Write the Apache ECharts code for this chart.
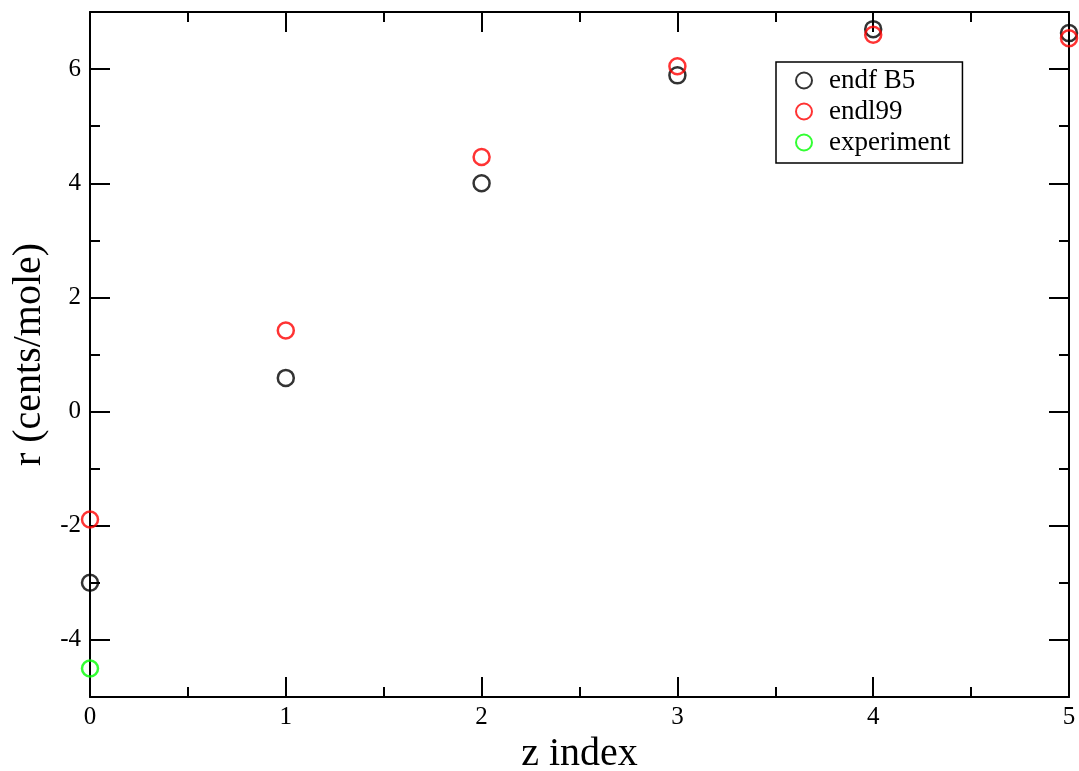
<!DOCTYPE html>
<html><head><meta charset="utf-8">
<script src="https://cdn.jsdelivr.net/npm/echarts@6/dist/echarts.min.js"></script>
<style>html,body{margin:0;padding:0;background:#fff}#c{width:1079px;height:771px}</style>
</head><body><div id="c"></div>
<script>
const xIndex = [0, 1, 2, 3, 4, 5];
const endfB5 = [-3.0, 0.59, 4.0, 5.89, 6.70, 6.63];
const endl99 = [-1.89, 1.42, 4.46, 6.05, 6.60, 6.54];
const experimentX = [0];
const experiment = [-4.5];
const seriesNames = ['endf B5', 'endl99', 'experiment'];
const colors = ['#000000', '#ff0000', '#00ff00'];

const FONT = 'Liberation Serif';
const chart = echarts.init(document.getElementById('c'));
function pts(xs, ys){ return xs.map((x,i)=>[x, ys[i]]); }
function mk(name, data, color){
  return {name, type:'scatter', data, symbol:'circle', symbolSize:16,
    itemStyle:{color:'transparent', borderColor:color, borderWidth:2.5},
    emphasis:{disabled:true}, xAxisIndex:0, yAxisIndex:0};
}
const axisLine = {show:true, onZero:false, lineStyle:{color:'#000', width:2}};
const tickStyle = {color:'#000', width:2};
function yMajor(pos, labels){
  return {type:'value', min:-5, max:7, splitNumber:6, minInterval:2, maxInterval:2, position:pos, offset:0,
    axisLine, axisTick:{show:true, inside:true, length:20, lineStyle:tickStyle},
    minorTick:{show:false}, splitLine:{show:false},
    axisLabel: labels ? {color:'#000', fontFamily:FONT, fontSize:25, margin:9,
       showMinLabel:false, showMaxLabel:false,
       formatter:v=> (v===-5||v===7)?'':String(v)} : {show:false}};
}
function yMinor(pos){
  return {type:'value', min:-5, max:7, interval:1, position:pos, offset:0,
    axisLine:{show:false, onZero:false}, axisTick:{show:true, inside:true, length:10, lineStyle:tickStyle},
    splitLine:{show:false}, axisLabel:{show:false}};
}
const yLeft = yMajor('left', true);
yLeft.name = 'r (cents/mole)';
yLeft.nameLocation = 'middle';
yLeft.nameGap = 37;
yLeft.nameTextStyle = {color:'#000', fontFamily:FONT, fontSize:40};
chart.setOption({
  animation:false,
  grid:{left:90, right:10, top:12, bottom:74, containLabel:false, outerBoundsMode:'none'},
  xAxis:[
    {type:'value', min:0, max:5, interval:1, position:'bottom', offset:0,
     axisLine, axisTick:{show:true, inside:true, length:20, lineStyle:tickStyle},
     minorTick:{show:true, splitNumber:2, length:10, lineStyle:tickStyle},
     splitLine:{show:false},
     axisLabel:{color:'#000', fontFamily:FONT, fontSize:25, margin:8},
     name:'z index', nameLocation:'middle', nameGap:34,
     nameTextStyle:{color:'#000', fontFamily:FONT, fontSize:40}},
    {type:'value', min:0, max:5, interval:1, position:'top', offset:0,
     axisLine, axisTick:{show:true, inside:true, length:20, lineStyle:tickStyle},
     minorTick:{show:true, splitNumber:2, length:10, lineStyle:tickStyle},
     splitLine:{show:false}, axisLabel:{show:false}}
  ],
  yAxis:[ yLeft, yMinor('left'), yMajor('right', false), yMinor('right') ],
  legend:{
    orient:'vertical', left:776, top:62,
    padding:[5,12,7,19], itemGap:4, itemWidth:40, itemHeight:16,
    borderColor:'#000', borderWidth:1.5, backgroundColor:'#fff',
    textStyle:{color:'#000', fontFamily:FONT, fontSize:27, lineHeight:27},
    data:seriesNames, selectedMode:false
  },
  series:[
    mk(seriesNames[0], pts(xIndex, endfB5), colors[0]),
    mk(seriesNames[1], pts(xIndex, endl99), colors[1]),
    mk(seriesNames[2], pts(experimentX, experiment), colors[2])
  ]
});
</script></body></html>
